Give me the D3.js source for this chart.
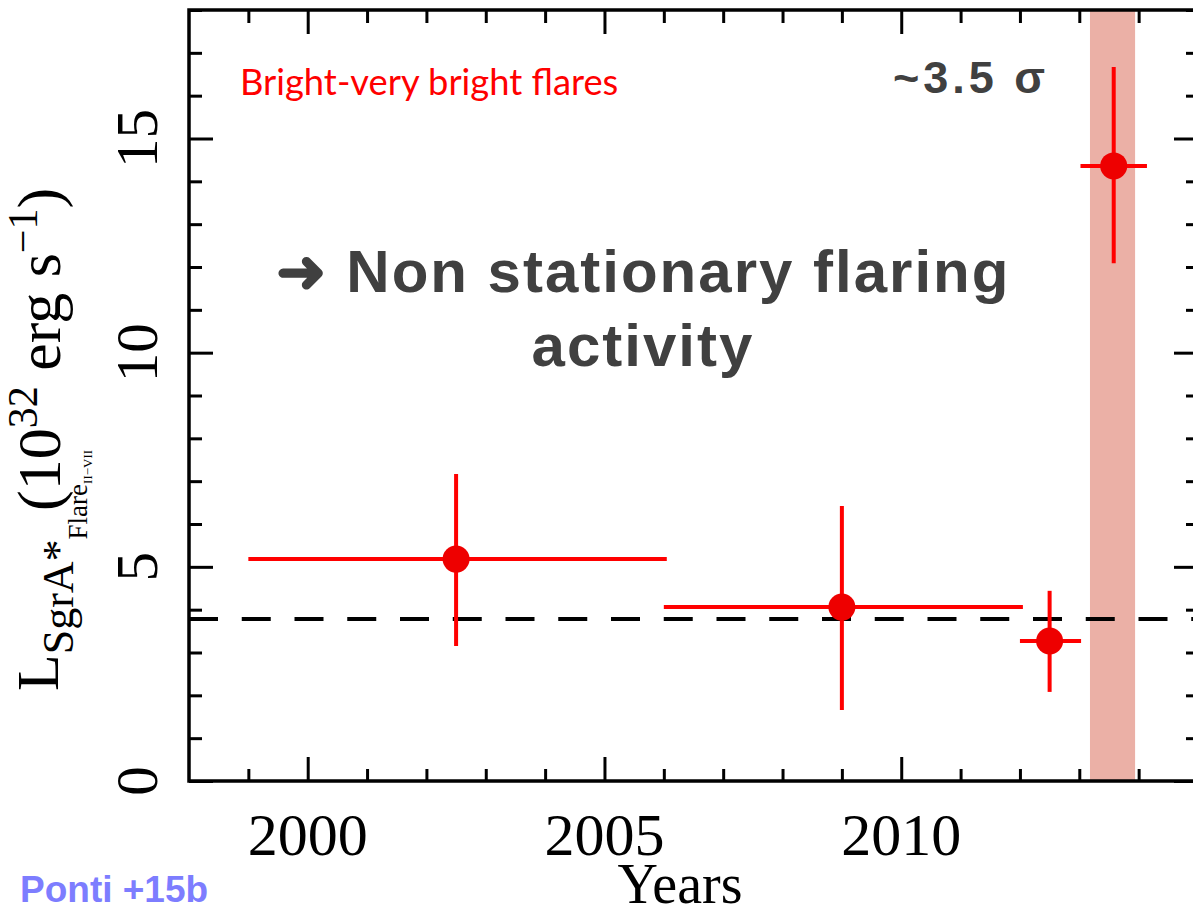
<!DOCTYPE html>
<html>
<head>
<meta charset="utf-8">
<script src="https://cdn.jsdelivr.net/npm/d3@7"></script>
<style>
  html, body { margin: 0; padding: 0; background: #fff; }
  svg { display: block; }
</style>
</head>
<body>
<svg id="chart" width="1193" height="916"></svg>
<script>
// Bright / very bright flare luminosity of Sgr A* per epoch
const epochYear   = [2002.5, 2009.0, 2012.5, 2013.58];
const epochStart  = [1999.0, 2006.0, 2012.0, 2013.02];
const epochEnd    = [2006.05, 2012.05, 2013.03, 2014.14];
const luminosity  = [5.18, 4.06, 3.27, 14.36];
const lumLow      = [3.15, 1.66, 2.08, 12.09];
const lumHigh     = [7.17, 6.42, 4.44, 16.67];
const meanLum     = 3.78;
const highlightSpan = [2013.18, 2013.94];
const xTickLabels = [2000, 2005, 2010];
const yTickLabels = [0, 5, 10, 15];

const svg = d3.select("#chart");
const plotL = 189, plotR = 1198, plotT = 10, plotB = 781;

const x = d3.scaleLinear().domain([1998, 2015]).range([plotL, plotR]);
const y = d3.scaleLinear().domain([0, 18]).range([plotB, plotT]);

const red = "#ff0000";
const serif = "'Liberation Serif','Times New Roman',serif";
const sans = "'Liberation Sans',Arial,sans-serif";

// highlighted epoch
svg.append("rect")
  .attr("x", x(highlightSpan[0]))
  .attr("y", plotT)
  .attr("width", x(highlightSpan[1]) - x(highlightSpan[0]))
  .attr("height", plotB - plotT)
  .attr("fill", "#ebb0a6");

// average level
svg.append("line")
  .attr("x1", plotL).attr("x2", plotR)
  .attr("y1", y(meanLum)).attr("y2", y(meanLum))
  .attr("stroke", "#000").attr("stroke-width", 4)
  .attr("stroke-dasharray", "29 23.75");

// axes: ticks drawn with d3 axis generators, one per side
const yearTicks = d3.range(1999, 2015);
const lumTicks = d3.range(0, 19);
const major = v => v % 5 === 0;

function styleAxis(g) {
  g.select(".domain").remove();
  g.selectAll(".tick line").attr("stroke", "#000").attr("stroke-width", 3);
  g.selectAll(".tick text").remove();
}

const xb = svg.append("g").attr("transform", `translate(0,${plotB})`)
  .call(d3.axisBottom(x).tickValues(yearTicks).tickSize(0));
xb.selectAll(".tick line").attr("y2", d => major(d) ? -24 : -12);
styleAxis(xb);

const xt = svg.append("g").attr("transform", `translate(0,${plotT})`)
  .call(d3.axisTop(x).tickValues(yearTicks).tickSize(0));
xt.selectAll(".tick line").attr("y2", d => major(d) ? 24 : 13);
styleAxis(xt);

const yl = svg.append("g").attr("transform", `translate(${plotL},0)`)
  .call(d3.axisLeft(y).tickValues(lumTicks).tickSize(0));
yl.selectAll(".tick line").attr("x2", d => major(d) ? 24 : 13);
styleAxis(yl);

const yr = svg.append("g").attr("transform", `translate(${plotR},0)`)
  .call(d3.axisRight(y).tickValues(lumTicks).tickSize(0));
yr.selectAll(".tick line").attr("x2", d => major(d) ? -24 : -12);
styleAxis(yr);

// frame
svg.append("rect")
  .attr("x", plotL).attr("y", plotT)
  .attr("width", plotR - plotL).attr("height", plotB - plotT)
  .attr("fill", "none").attr("stroke", "#000").attr("stroke-width", 3.5);

// tick labels
svg.append("g").selectAll("text").data(xTickLabels).join("text")
  .attr("x", d => x(d)).attr("y", 855)
  .attr("text-anchor", "middle")
  .attr("font-family", serif).attr("font-size", 60)
  .attr("fill", "#000")
  .text(d => d);

svg.append("g").selectAll("text").data(yTickLabels).join("text")
  .attr("transform", d => `translate(157,${y(d)}) rotate(-90)`)
  .attr("text-anchor", "middle")
  .attr("font-family", serif).attr("font-size", 59)
  .attr("fill", "#000")
  .text(d => d);

// axis titles
svg.append("text")
  .attr("x", 680).attr("y", 903)
  .attr("text-anchor", "middle")
  .attr("font-family", serif).attr("font-size", 56)
  .text("Years");

// y title: symbol with nested subscripts, then units
const ysym = svg.append("text")
  .attr("transform", "translate(58,691) rotate(-90)")
  .attr("font-family", serif).attr("font-size", 60).attr("fill", "#000");
ysym.append("tspan").text("L");
ysym.append("tspan").attr("font-size", 44).attr("dy", 15).text("SgrA*");
ysym.append("tspan").attr("font-size", 27).attr("dy", 14).text("Flare");
ysym.append("tspan").attr("font-size", 13).attr("dy", 5).text("II−VII");

const yunit = svg.append("text")
  .attr("transform", "translate(60,511) rotate(-90)")
  .attr("font-family", serif).attr("font-size", 62).attr("fill", "#000");
yunit.append("tspan").text("(10");
yunit.append("tspan").attr("font-size", 42).attr("dy", -23).text("32");
yunit.append("tspan").attr("dy", 23).text(" erg s");
yunit.append("tspan").attr("font-size", 42).attr("dy", -23).text("−1");
yunit.append("tspan").attr("dy", 23).text(")");

// error bars and points
const pts = d3.range(epochYear.length);
const bars = svg.append("g").attr("stroke", red).attr("stroke-width", 4);
bars.selectAll("line.h").data(pts).join("line").attr("class", "h")
  .attr("x1", i => x(epochStart[i])).attr("x2", i => x(epochEnd[i]))
  .attr("y1", i => y(luminosity[i])).attr("y2", i => y(luminosity[i]));
bars.selectAll("line.v").data(pts).join("line").attr("class", "v")
  .attr("x1", i => x(epochYear[i])).attr("x2", i => x(epochYear[i]))
  .attr("y1", i => y(lumLow[i])).attr("y2", i => y(lumHigh[i]));
svg.append("g").selectAll("circle").data(pts).join("circle")
  .attr("cx", i => x(epochYear[i])).attr("cy", i => y(luminosity[i]))
  .attr("r", 13.5).attr("fill", "#ee0000");

// annotations
svg.append("text")
  .attr("x", 240).attr("y", 95)
  .attr("font-family", "Lato, 'Open Sans', sans-serif").attr("font-size", 36.3)
  .attr("fill", red)
  .text("Bright-very bright flares");

svg.append("text")
  .attr("x", 893).attr("y", 93)
  .attr("font-family", sans).attr("font-weight", "bold").attr("font-size", 45)
  .attr("letter-spacing", 4)
  .attr("fill", "#404040")
  .text("~3.5 σ");

const note = svg.append("text")
  .attr("text-anchor", "middle")
  .attr("font-family", sans).attr("font-weight", "bold").attr("font-size", 60)
  .attr("letter-spacing", 2)
  .attr("fill", "#404040");
note.append("tspan").attr("x", 643).attr("y", 292).text("➜ Non stationary flaring");
note.append("tspan").attr("x", 643).attr("y", 366).text("activity");

svg.append("text")
  .attr("x", 20).attr("y", 902)
  .attr("font-family", sans).attr("font-weight", "bold").attr("font-size", 37)
  .attr("fill", "#7d7dff")
  .text("Ponti +15b");
</script>
</body>
</html>
